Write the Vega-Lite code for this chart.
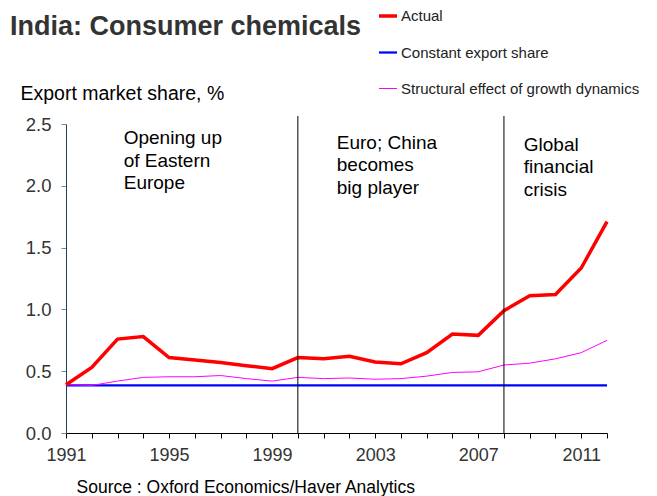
{
  "$schema": "https://vega.github.io/schema/vega-lite/v6.json",
  "width": 541,
  "height": 309,
  "autosize": {"type": "none"},
  "padding": {"left": 66, "top": 124, "right": 50, "bottom": 63},
  "background": "white",
  "config": {
    "view": {"stroke": null},
    "font": "Liberation Sans",
    "legend": {
      "orient": "none",
      "title": null,
      "symbolType": "stroke",
      "symbolSize": 324,
      "labelFontSize": 15,
      "labelColor": "#222222",
      "labelFont": "Liberation Sans",
      "labelOffset": 2,
      "rowPadding": 18,
      "padding": 0,
      "labelLimit": 400
    }
  },
  "title": {
    "text": "India: Consumer chemicals",
    "font": "Liberation Sans",
    "fontSize": 27,
    "fontWeight": "bold",
    "color": "#333333",
    "anchor": "start",
    "frame": "group",
    "dx": -56,
    "dy": 67,
    "baseline": "alphabetic",
    "offset": 10
  },
  "datasets": {
    "shares": [
      {"year": 1991, "Actual": 0.39, "Constant export share": 0.385, "Structural effect of growth dynamics": 0.39},
      {"year": 1992, "Actual": 0.53, "Constant export share": 0.385, "Structural effect of growth dynamics": 0.385},
      {"year": 1993, "Actual": 0.76, "Constant export share": 0.385, "Structural effect of growth dynamics": 0.42},
      {"year": 1994, "Actual": 0.78, "Constant export share": 0.385, "Structural effect of growth dynamics": 0.45},
      {"year": 1995, "Actual": 0.61, "Constant export share": 0.385, "Structural effect of growth dynamics": 0.455},
      {"year": 1996, "Actual": 0.59, "Constant export share": 0.385, "Structural effect of growth dynamics": 0.455},
      {"year": 1997, "Actual": 0.57, "Constant export share": 0.385, "Structural effect of growth dynamics": 0.465},
      {"year": 1998, "Actual": 0.545, "Constant export share": 0.385, "Structural effect of growth dynamics": 0.44},
      {"year": 1999, "Actual": 0.52, "Constant export share": 0.385, "Structural effect of growth dynamics": 0.42},
      {"year": 2000, "Actual": 0.61, "Constant export share": 0.385, "Structural effect of growth dynamics": 0.45},
      {"year": 2001, "Actual": 0.6, "Constant export share": 0.385, "Structural effect of growth dynamics": 0.44},
      {"year": 2002, "Actual": 0.62, "Constant export share": 0.385, "Structural effect of growth dynamics": 0.445},
      {"year": 2003, "Actual": 0.575, "Constant export share": 0.385, "Structural effect of growth dynamics": 0.435},
      {"year": 2004, "Actual": 0.56, "Constant export share": 0.385, "Structural effect of growth dynamics": 0.44},
      {"year": 2005, "Actual": 0.65, "Constant export share": 0.385, "Structural effect of growth dynamics": 0.46},
      {"year": 2006, "Actual": 0.8, "Constant export share": 0.385, "Structural effect of growth dynamics": 0.49},
      {"year": 2007, "Actual": 0.79, "Constant export share": 0.385, "Structural effect of growth dynamics": 0.495},
      {"year": 2008, "Actual": 0.99, "Constant export share": 0.385, "Structural effect of growth dynamics": 0.55},
      {"year": 2009, "Actual": 1.11, "Constant export share": 0.385, "Structural effect of growth dynamics": 0.565},
      {"year": 2010, "Actual": 1.12, "Constant export share": 0.385, "Structural effect of growth dynamics": 0.6},
      {"year": 2011, "Actual": 1.335, "Constant export share": 0.385, "Structural effect of growth dynamics": 0.65},
      {"year": 2012, "Actual": 1.71, "Constant export share": 0.385, "Structural effect of growth dynamics": 0.75}
    ],
    "events": [
      {"year": 2000},
      {"year": 2008}
    ],
    "notes": [
      {"year": 1993.24, "value": 2.338, "label": "Opening up\nof Eastern\nEurope"},
      {"year": 2001.51, "value": 2.298, "label": "Euro; China\nbecomes\nbig player"},
      {"year": 2008.77, "value": 2.282, "label": "Global\nfinancial\ncrisis"}
    ]
  },
  "encoding": {
    "x": {
      "field": "year",
      "type": "quantitative",
      "scale": {"domain": [1991, 2012], "nice": false, "zero": false},
      "axis": {
        "values": [1991, 1992, 1993, 1994, 1995, 1996, 1997, 1998, 1999, 2000, 2001, 2002, 2003, 2004, 2005, 2006, 2007, 2008, 2009, 2010, 2011, 2012],
        "format": "d",
        "labelExpr": "(datum.value - 1991) % 4 === 0 ? datum.label : ''",
        "grid": false,
        "domainColor": "#000000",
        "tickColor": "#000000",
        "tickSize": 5,
        "labelFontSize": 18,
        "labelColor": "#333333",
        "labelPadding": 8,
        "labelFlush": false,
        "labelOverlap": false,
        "title": "Source : Oxford Economics/Haver Analytics",
        "titleFontSize": 17.5,
        "titleFontWeight": "normal",
        "titleColor": "#000000",
        "titleAlign": "left",
        "titleAnchor": "start",
        "titleBaseline": "alphabetic",
        "titleX": 10,
        "titleY": 59
      }
    }
  },
  "layer": [
    {
      "data": {"name": "shares"},
      "transform": [
        {"fold": ["Constant export share", "Structural effect of growth dynamics", "Actual"], "as": ["series", "value"]}
      ],
      "mark": {"type": "line", "clip": false},
      "encoding": {
        "y": {
          "field": "value",
          "type": "quantitative",
          "scale": {"domain": [0, 2.5], "nice": false},
          "axis": {
            "values": [0, 0.5, 1, 1.5, 2, 2.5],
            "format": ".1f",
            "grid": false,
            "domainColor": "#1d3f5e",
            "tickColor": "#6d8aa3",
            "tickSize": 5,
            "labelFontSize": 18.5,
            "labelColor": "#333333",
            "labelPadding": 10,
            "title": "Export market share, %",
            "titleAngle": 0,
            "titleAlign": "left",
            "titleBaseline": "alphabetic",
            "titleFontSize": 19.5,
            "titleFontWeight": "normal",
            "titleColor": "#000000",
            "titleX": -46,
            "titleY": -25
          }
        },
        "color": {
          "field": "series",
          "type": "nominal",
          "scale": {
            "domain": ["Actual", "Constant export share", "Structural effect of growth dynamics"],
            "range": ["#ff0000", "#0000ff", "#ff00ff"]
          },
          "legend": {"legendX": 311, "legendY": -119}
        },
        "strokeWidth": {
          "field": "series",
          "type": "nominal",
          "scale": {
            "domain": ["Actual", "Constant export share", "Structural effect of growth dynamics"],
            "range": [3.5, 1, 1]
          },
          "legend": {"legendX": 311, "legendY": -119}
        },
        "order": {"field": "series", "sort": "descending"}
      }
    },
    {
      "data": {"name": "events"},
      "mark": {"type": "rule", "color": "#000000", "strokeWidth": 1, "clip": false},
      "encoding": {
        "y": {"datum": 2.565, "type": "quantitative"},
        "y2": {"datum": 0}
      }
    },
    {
      "data": {"name": "notes"},
      "mark": {
        "type": "text",
        "align": "left",
        "baseline": "alphabetic",
        "fontSize": 19,
        "lineHeight": 22.5,
        "lineBreak": "\n",
        "color": "#000000",
        "font": "Liberation Sans"
      },
      "encoding": {
        "y": {"field": "value", "type": "quantitative"},
        "text": {"field": "label"}
      }
    }
  ]
}
